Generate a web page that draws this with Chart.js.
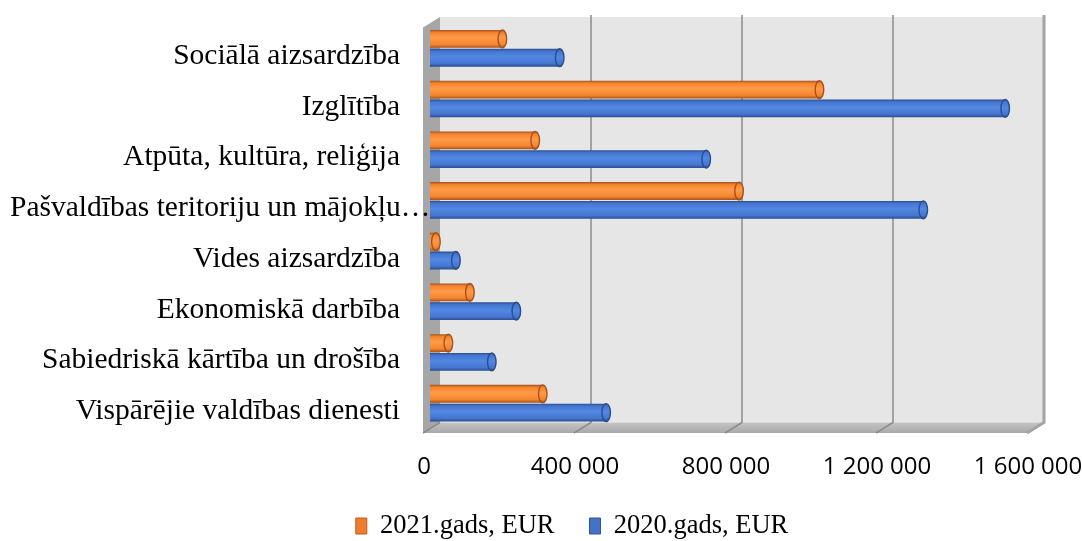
<!DOCTYPE html>
<html lang="lv">
<head>
<meta charset="utf-8">
<title>Pašvaldības izdevumi</title>
<script src="https://cdn.jsdelivr.net/npm/chart.js@4.4.1/dist/chart.umd.min.js"></script>
<style>
  html, body { margin: 0; padding: 0; background: #fff; }
  #wrap { width: 1082px; height: 541px; }
</style>
</head>
<body>
<div id="wrap"><canvas id="budgetChart" width="1082" height="541"></canvas></div>
<script>
// data
const categories = [
  "Sociālā aizsardzība",
  "Izglītība",
  "Atpūta, kultūra, reliģija",
  "Pašvaldības teritoriju un mājokļu…",
  "Vides aizsardzība",
  "Ekonomiskā darbība",
  "Sabiedriskā kārtība un drošība",
  "Vispārējie valdības dienesti"
];
const values2021 = [203000, 1043000, 290000, 830000, 27000, 117000, 60000, 310000];
const values2020 = [355000, 1535000, 743000, 1318000, 80000, 240000, 175000, 478000];
const seriesNames = ["2021.gads, EUR", "2020.gads, EUR"];
const xTickValues = [0, 400000, 800000, 1200000, 1600000];

const serif = '"Liberation Serif", "Times New Roman", serif';

// colours for the cylinder bars
const tones = [
  { flat: "#ED7D31", border: "#C55A11", edge: "#A9501A", body: "#F3852F", light: "#FF9A48" },
  { flat: "#4472C4", border: "#2F5597", edge: "#2A4D8E", body: "#4576D0", light: "#5287E2" }
];

// offsets of the front / back planes from the bar plane
const depth = { fx: -7, fy: 4.5, bx: 10, by: -6 };

function fmt(v) {
  return String(v).replace(/\B(?=(\d{3})+(?!\d))/g, " ");
}

function poly(ctx, pts, fill) {
  ctx.beginPath();
  ctx.moveTo(pts[0][0], pts[0][1]);
  for (let i = 1; i < pts.length; i++) ctx.lineTo(pts[i][0], pts[i][1]);
  ctx.closePath();
  ctx.fillStyle = fill;
  ctx.fill();
}

// walls, floor and gridlines behind the bars
const box3d = {
  id: "box3d",
  beforeDatasetsDraw(chart) {
    const { ctx, chartArea: a, scales: { x } } = chart;
    const fl = a.left + depth.fx, fr = a.right + depth.fx, fb = a.bottom + depth.fy, ft = a.top + depth.fy;
    const bl = a.left + depth.bx, br = a.right + depth.bx, bb = a.bottom + depth.by, bt = a.top + depth.by;
    ctx.save();
    ctx.fillStyle = "#e6e6e6";
    ctx.fillRect(bl, bt, br - bl, bb - bt);
    const fg = ctx.createLinearGradient(0, bb, 0, fb);
    fg.addColorStop(0, "#c4c4c4");
    fg.addColorStop(1, "#a9a9a9");
    poly(ctx, [[fl, fb], [bl, bb], [br, bb], [fr, fb]], fg);
    poly(ctx, [[fl, ft], [bl, bt], [bl, bb], [fl, fb]], "#a6a6a6");
    xTickValues.forEach((v, i) => {
      const p = x.getPixelForValue(v);
      ctx.strokeStyle = i === xTickValues.length - 1 ? "#a3a3a3" : "#8c8c8c";
      ctx.lineWidth = i === xTickValues.length - 1 ? 3 : 1.5;
      ctx.beginPath();
      if (i > 0) {
        ctx.moveTo(p + depth.bx, bt - 2);
        ctx.lineTo(p + depth.bx, bb);
      } else {
        ctx.moveTo(p + depth.bx, bb);
      }
      ctx.lineTo(p + depth.fx, fb);
      ctx.stroke();
    });
    ctx.restore();
  }
};

function drawCylinder(ctx, x0, x1, yc, h, c) {
  const rx = Math.max(Math.min(h * 0.24, (x1 - x0) / 2), 1);
  const top = yc - h / 2;
  const g = ctx.createLinearGradient(0, top, 0, top + h);
  g.addColorStop(0, c.edge);
  g.addColorStop(0.14, c.body);
  g.addColorStop(0.45, c.light);
  g.addColorStop(0.82, c.body);
  g.addColorStop(1, c.edge);
  ctx.fillStyle = g;
  ctx.beginPath();
  ctx.moveTo(x0, top);
  ctx.lineTo(x1 - rx, top);
  ctx.ellipse(x1 - rx, yc, rx, h / 2, 0, -Math.PI / 2, Math.PI / 2);
  ctx.lineTo(x0, top + h);
  ctx.closePath();
  ctx.fill();
  // flat end of the cylinder
  ctx.beginPath();
  ctx.ellipse(x1 - rx, yc, rx, h / 2, 0, 0, Math.PI * 2);
  ctx.fillStyle = g;
  ctx.fill();
  ctx.strokeStyle = c.edge;
  ctx.lineWidth = 1.4;
  ctx.stroke();
}

const cylinders = {
  id: "cylinders",
  beforeDatasetDraw() { return false; },
  afterDatasetsDraw(chart) {
    const ctx = chart.ctx;
    ctx.save();
    chart.data.datasets.forEach((ds, di) => {
      chart.getDatasetMeta(di).data.forEach(el => {
        const { x, y, base, height } = el.getProps(["x", "y", "base", "height"], true);
        drawCylinder(ctx, base, x, y, height, tones[di]);
      });
    });
    ctx.restore();
  }
};

// category names, right aligned; too long ones start at the left margin
const catLabels = {
  id: "catLabels",
  afterDraw(chart) {
    const { ctx, chartArea: a, scales: { y } } = chart;
    ctx.save();
    ctx.font = "29.5px " + serif;
    ctx.fillStyle = "#000";
    ctx.textBaseline = "middle";
    ctx.textAlign = "left";
    categories.forEach((c, i) => {
      const w = ctx.measureText(c).width;
      const tx = Math.max(a.left - 30 - w, 10);
      ctx.fillText(c, tx, y.getPixelForTick(i) + 8);
    });
    ctx.restore();
  }
};

new Chart(document.getElementById("budgetChart"), {
  type: "bar",
  data: {
    labels: categories,
    datasets: [
      { label: seriesNames[0], data: values2021, backgroundColor: tones[0].flat, borderColor: tones[0].border, borderWidth: 1 },
      { label: seriesNames[1], data: values2020, backgroundColor: tones[1].flat, borderColor: tones[1].border, borderWidth: 1 }
    ]
  },
  options: {
    indexAxis: "y",
    responsive: false,
    animation: false,
    layout: { padding: { top: 23, right: 48, bottom: -8.25, left: 110 } },
    datasets: { bar: { categoryPercentage: 0.74, barPercentage: 0.95 } },
    plugins: {
      tooltip: { enabled: false },
      legend: {
        position: "bottom",
        align: "center",
        labels: {
          boxWidth: 11, boxHeight: 16, padding: 35, color: "#000",
          font: { family: serif, size: 26.5 }
        }
      }
    },
    scales: {
      x: {
        min: 0, max: 1600000,
        grid: { display: false, drawTicks: false },
        border: { display: false },
        afterBuildTicks: s => { s.ticks = xTickValues.map(v => ({ value: v })); },
        afterFit: s => { s.height = 49.25; s.paddingLeft = 0; s.paddingRight = 0; },
        ticks: {
          color: "#000", padding: 24, labelOffset: -6, maxRotation: 0, autoSkip: false,
          font: { family: '"Open Sans", sans-serif', size: 24 },
          callback: v => fmt(v)
        }
      },
      y: {
        grid: { display: false },
        border: { display: false },
        ticks: { display: false },
        afterFit: s => { s.width = 320; }
      }
    }
  },
  plugins: [box3d, cylinders, catLabels]
});
</script>
</body>
</html>
